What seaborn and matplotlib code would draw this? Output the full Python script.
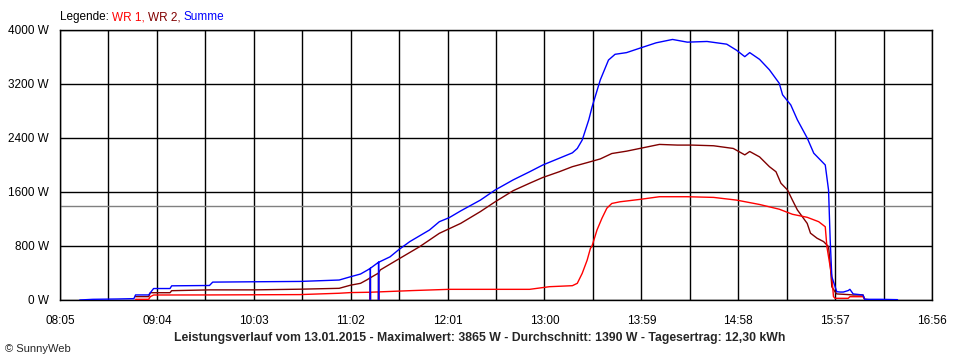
import numpy as np
import pandas as pd
import matplotlib
matplotlib.use("Agg")
import matplotlib.pyplot as plt
import seaborn as sns

# ------------------------------------------------------------
# Daten
# ------------------------------------------------------------
summe_zeit = ["08:17", "08:25", "08:40", "08:50", "08:51", "08:59", "09:00", "09:02", "09:12",
              "09:13", "09:36", "09:38", "10:03", "10:31", "10:55", "11:02", "11:08", "11:12",
              "11:14", "11:14", "11:14", "11:19", "11:19", "11:19", "11:20", "11:26", "11:31",
              "11:38", "11:50", "11:56", "12:02", "12:09", "12:21", "12:30", "12:41", "12:51",
              "12:59", "13:09", "13:17", "13:20", "13:23", "13:25", "13:27", "13:29", "13:34",
              "13:39", "13:43", "13:50", "13:58", "14:08", "14:18", "14:27", "14:39", "14:51",
              "14:57", "15:02", "15:05", "15:11", "15:17", "15:23", "15:25", "15:30", "15:34",
              "15:40", "15:44", "15:51", "15:53", "15:54", "15:55", "15:57", "15:58", "16:00",
              "16:02", "16:05", "16:06", "16:08", "16:14", "16:15", "16:25", "16:35"]
summe_w = [0, 10, 15, 20, 75, 75, 108, 170, 170,
           210, 215, 265, 270, 275, 296, 345, 385, 440,
           470, 0, 470, 560, 0, 560, 570, 640, 740,
           865, 1037, 1160, 1220, 1320, 1480, 1630, 1780, 1900,
           2000, 2100, 2180, 2245, 2370, 2520, 2670, 2860, 3260,
           3555, 3640, 3665, 3730, 3810, 3860, 3820, 3830, 3790,
           3700, 3605, 3665, 3565, 3410, 3210, 3040, 2890, 2670,
           2400, 2175, 2000, 1630, 890, 345, 197, 123, 118,
           118, 140, 158, 90, 74, 10, 10, 5]

wr2_zeit = ["08:51", "08:59", "09:00", "09:12", "09:13", "09:36", "10:03", "10:31", "10:55",
            "11:02", "11:08", "11:12", "11:14", "11:14", "11:14", "11:19", "11:19", "11:19",
            "11:20", "11:32", "11:44", "11:56", "12:09", "12:21", "12:30", "12:41", "12:51",
            "12:59", "13:09", "13:17", "13:26", "13:34", "13:41", "13:50", "13:58", "14:10",
            "14:21", "14:30", "14:43", "14:55", "15:02", "15:05", "15:11", "15:17", "15:21",
            "15:24", "15:28", "15:31", "15:34", "15:37", "15:40", "15:42", "15:46", "15:50",
            "15:53", "15:54", "15:55", "15:57", "15:58", "16:05", "16:08", "16:14", "16:15",
            "16:20"]
wr2_w = [50, 50, 108, 108, 138, 150, 150, 160, 173,
         220, 247, 300, 330, 0, 330, 400, 0, 400,
         445, 618, 790, 988, 1135, 1310, 1455, 1620, 1730,
         1815, 1900, 1975, 2035, 2090, 2170, 2205, 2245, 2305,
         2295, 2295, 2285, 2245, 2150, 2200, 2120, 1975, 1900,
         1730, 1630, 1480, 1335, 1235, 1135, 990, 915, 865,
         790, 540, 195, 120, 90, 80, 74, 74, 10,
         0]

wr1_zeit = ["08:51", "08:59", "09:00", "09:02", "09:36", "10:31", "10:55", "11:02", "11:14",
            "11:14", "11:14", "11:19", "11:19", "11:19", "11:40", "12:02", "12:51", "13:03",
            "13:17", "13:20", "13:23", "13:26", "13:28", "13:29", "13:32", "13:35", "13:38",
            "13:41", "13:46", "13:58", "14:10", "14:27", "14:43", "14:57", "15:11", "15:23",
            "15:31", "15:40", "15:47", "15:51", "15:52", "15:53", "15:55", "15:56", "15:57",
            "16:05", "16:06", "16:14", "16:15", "16:18"]
wr1_w = [10, 10, 50, 74, 75, 80, 100, 110, 115,
         0, 115, 120, 0, 120, 140, 158, 158, 197,
         212, 247, 395, 590, 765, 800, 1037, 1210, 1360,
         1430, 1455, 1490, 1530, 1530, 1520, 1480, 1415, 1345,
         1270, 1225, 1160, 1085, 790, 640, 345, 50, 25,
         25, 49, 49, 10, 0]

durchschnitt = 1390
x_labels = ["08:05", "09:04", "10:03", "11:02", "12:01", "13:00", "13:59", "14:58", "15:57", "16:56"]
y_werte = [0, 800, 1600, 2400, 3200, 4000]

farben = {"WR 1": "#ff0000", "WR 2": "#800000", "Summe": "#0000ff"}


def to_min(s):
    h, m = s.split(":")
    return int(h) * 60 + int(m)


def serie(zeiten, werte, name):
    return pd.DataFrame({"min": [to_min(t) for t in zeiten], "W": werte, "serie": name})


# ------------------------------------------------------------
# Plot
# ------------------------------------------------------------
sns.set_style("white")
plt.rcParams["font.family"] = ["Liberation Sans", "DejaVu Sans"]

fig = plt.figure(figsize=(9.6, 3.6), dpi=100)
ax = fig.add_axes([60 / 960, 60 / 360, 872 / 960, 270 / 360])

x0 = to_min(x_labels[0])
x1 = to_min(x_labels[-1])

# Raster
grid_x = [x0 + 29.5 * k for k in range(19)]
for gx in grid_x:
    ax.axvline(gx, color="black", lw=1.0, zorder=1)
for gy in y_werte:
    ax.axhline(gy, color="black", lw=1.0, zorder=1)
ax.axhline(durchschnitt, color="#808080", lw=1.0, zorder=1)

for df in [serie(wr2_zeit, wr2_w, "WR 2"),
           serie(wr1_zeit, wr1_w, "WR 1"),
           serie(summe_zeit, summe_w, "Summe")]:
    name = df["serie"].iloc[0]
    sns.lineplot(data=df, x="min", y="W", sort=False, estimator=None,
                 color=farben[name], lw=1.0, ax=ax, legend=False, zorder=3)

ax.set_xlim(x0, x1)
ax.set_ylim(0, 4000)
ax.set_xticks(grid_x)
ax.set_xticklabels([x_labels[k // 2] if k % 2 == 0 else "" for k in range(19)])
ax.set_yticks(y_werte)
ax.set_yticklabels([f"{v} W" for v in y_werte])
ax.tick_params(axis="both", direction="out", length=5, width=1, color="black",
               labelsize=8.5, labelcolor="black")
ax.tick_params(axis="x", pad=6)
ax.tick_params(axis="y", pad=3)
ax.set_xlabel("")
ax.set_ylabel("")
for sp in ax.spines.values():
    sp.set_color("black")
    sp.set_linewidth(1.0)

# Legende oben: Textteile nacheinander setzen
renderer = fig.canvas.get_renderer()
teile = [("Legende:", "black"), ("WR 1,", farben["WR 1"]),
         ("WR 2,", farben["WR 2"]), ("Summe", farben["Summe"])]
x_px = 60
for txt, col in teile:
    t = fig.text(x_px / 960, 1 - 17 / 360, txt, fontsize=8.5, color=col, va="center")
    bb = t.get_window_extent(renderer)
    x_px = bb.x1 + 3

# Titel unten
fig.text(480 / 960, 1 - 338 / 360,
         "Leistungsverlauf vom 13.01.2015 - Maximalwert: 3865 W - Durchschnitt: 1390 W - Tagesertrag: 12,30 kWh",
         fontsize=8.8, fontweight="bold", ha="center", va="center")
fig.text(5 / 960, 1 - 349 / 360, "© SunnyWeb", fontsize=8, va="center")

fig.savefig("out.png", dpi=100)
